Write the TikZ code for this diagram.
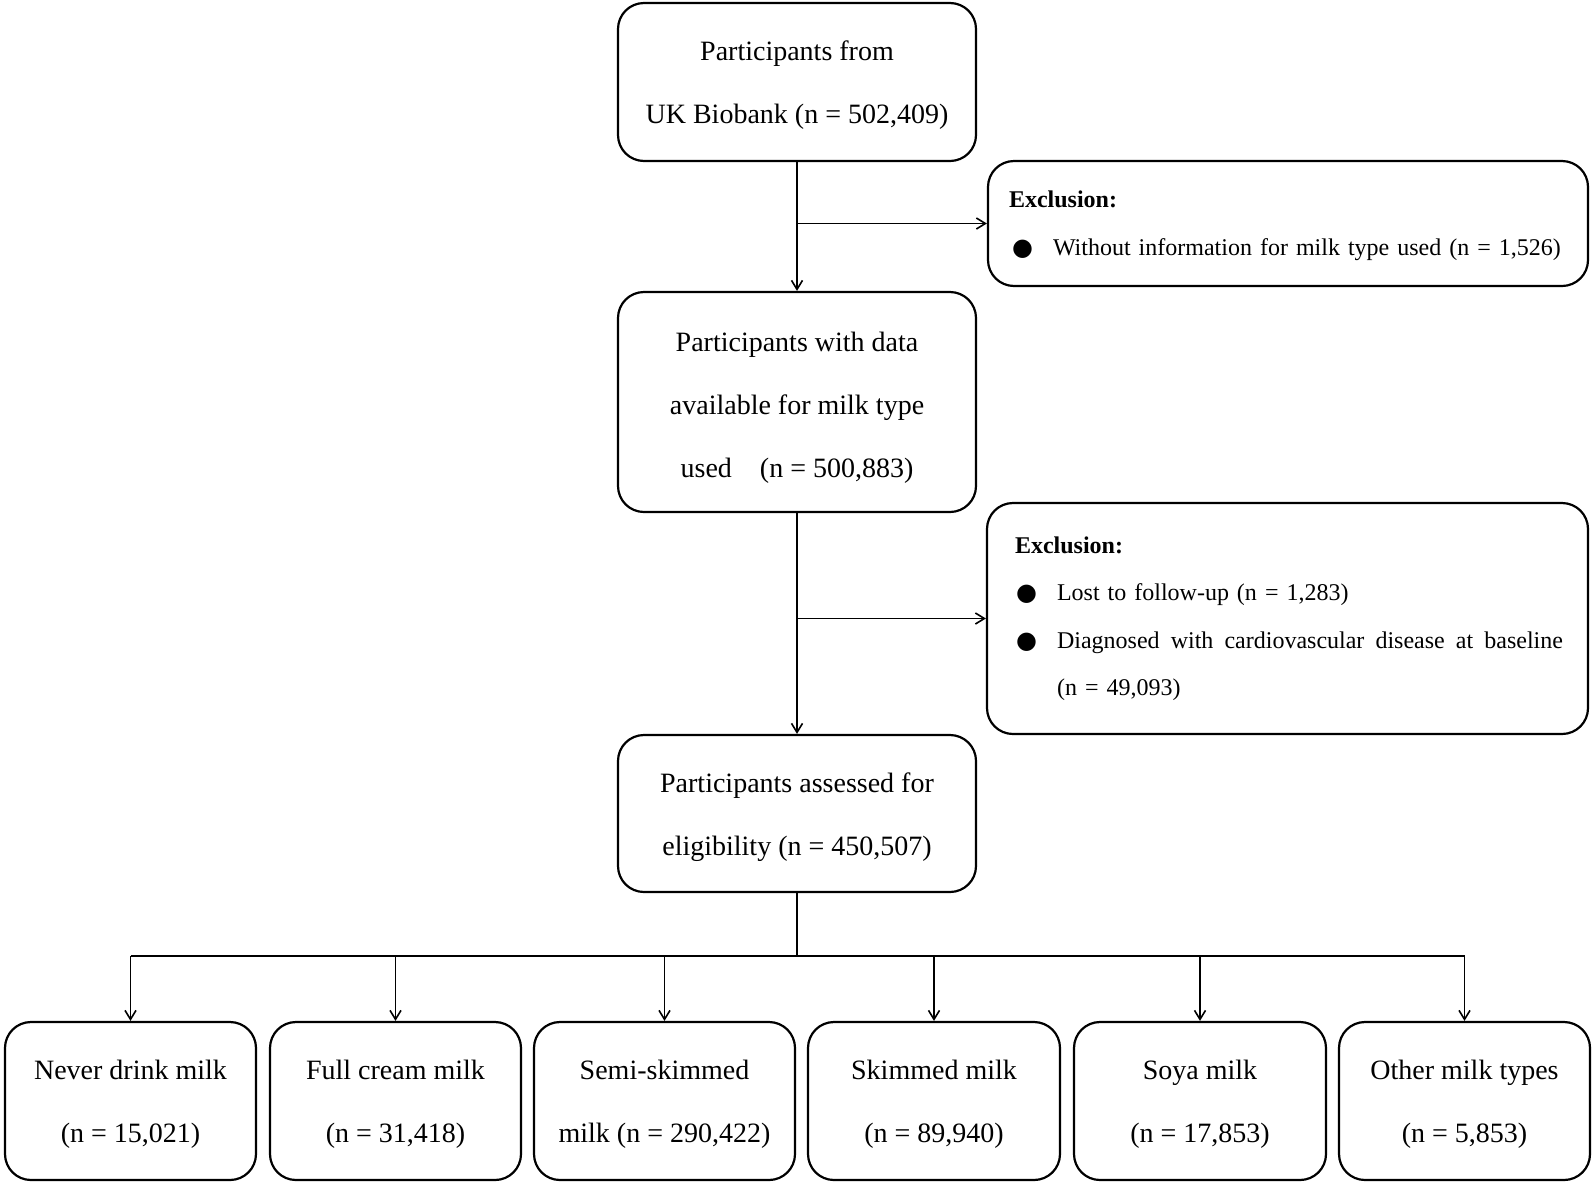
\documentclass[tikz,border=0pt]{standalone}
\usepackage{fontspec}
\setmainfont{Liberation Serif}
\newfontfamily\symfont{DejaVu Sans}
\usetikzlibrary{arrows.meta}
\newcommand{\bulA}{\makebox[44pt][l]{\hspace{3pt}{\symfont ●}}}
\newcommand{\bulB}{\makebox[42pt][l]{\hspace{1pt}{\symfont ●}}}
\newcommand{\dn}[1]{\rule{0pt}{#1}}
\begin{document}
\begin{tikzpicture}[x=1pt,y=-1pt,
  box/.style={draw, line width=2.2pt, rounded corners=26pt, align=center,
    font=\fontsize{28}{63}\selectfont, inner sep=0pt},
  excbox/.style={draw, line width=2.2pt, rounded corners=26pt, align=left,
    font=\fontsize{24}{47.5}\selectfont, inner ysep=0pt},
  arr/.style={line width=1.8pt, -{Straight Barb[length=9pt,width=11pt,line width=1.6pt]}},
  ln/.style={line width=1.8pt}]
\useasboundingbox (0,0) rectangle (1594,1184);
\node[box, minimum width=358pt, minimum height=158pt] (b1) at (797,82)
  {\dn{26pt}Participants from\\UK Biobank (n = 502,409)};
\node[box, minimum width=358pt, minimum height=220pt] (b2) at (797,402)
  {\dn{31pt}Participants with data\\available for milk type\\used\quad(n = 500,883)};
\node[box, minimum width=358pt, minimum height=157pt] (b3) at (797,813.5)
  {\dn{27pt}Participants assessed for\\eligibility (n = 450,507)};
\node[excbox, minimum height=125pt, text width=558pt, inner xsep=21pt] (e1) at (1288,223.5)
  {\dn{21pt}\textbf{Exclusion:}\\\bulA Without information for milk type used (n = 1,526)};
\node[excbox, minimum height=231pt, text width=545pt, inner xsep=28pt] (e2) at (1287.5,618.5)
  {\textbf{Exclusion:}\\\bulB Lost to follow-up (n = 1,283)\\
   \bulB\hbox to 506pt{Diagnosed\hfill with\hfill cardiovascular\hfill disease\hfill at\hfill baseline}\\
   \hspace*{42pt}(n = 49,093)};
\node[box, minimum width=251pt, minimum height=158pt] (m1) at (130.5,1101) {\dn{25pt}Never drink milk\\(n = 15,021)};
\node[box, minimum width=251pt, minimum height=158pt] (m2) at (395.5,1101) {\dn{25pt}Full cream milk\\(n = 31,418)};
\node[box, minimum width=261pt, minimum height=158pt] (m3) at (664.5,1101) {\dn{25pt}Semi-skimmed\\milk (n = 290,422)};
\node[box, minimum width=252pt, minimum height=158pt] (m4) at (934,1101) {\dn{25pt}Skimmed milk\\(n = 89,940)};
\node[box, minimum width=252pt, minimum height=158pt] (m5) at (1200,1101) {\dn{25pt}Soya milk\\(n = 17,853)};
\node[box, minimum width=251pt, minimum height=158pt] (m6) at (1464.5,1101) {\dn{25pt}Other milk types\\(n = 5,853)};
\draw[arr] (b1.south) -- (b2.north);
\draw[arr] (b1.south |- e1.west) -- (e1.west);
\draw[arr] (b2.south) -- (b3.north);
\draw[arr] (b2.south |- e2.west) -- (e2.west);
\coordinate (j) at (797,956);
\draw[ln] (b3.south) -- (j);
\draw[ln] (m1.north |- j) -- (m6.north |- j);
\foreach \m in {m1,m2,m3,m4,m5,m6} \draw[arr] (\m.north |- j) -- (\m.north);
\end{tikzpicture}
\end{document}
